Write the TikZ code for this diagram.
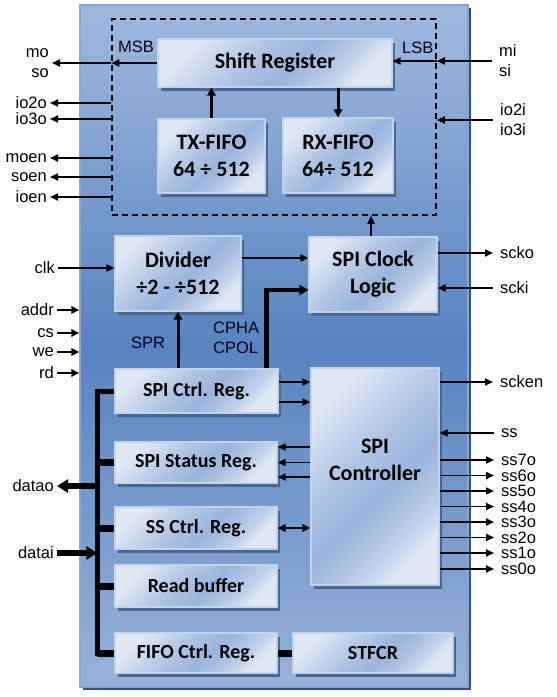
\documentclass[tikz,border=0pt]{standalone}
\usepackage{fontspec}
\setmainfont{Liberation Sans}
\newfontfamily\boxfont{Carlito}
\usetikzlibrary{arrows.meta,shadows}
\definecolor{mtop}{HTML}{A0B9DF}
\definecolor{mmid}{HTML}{5783C0}
\definecolor{mbot}{HTML}{97B2D9}
\definecolor{mborder}{HTML}{86A6D3}
\definecolor{mshadow}{HTML}{34517E}
\definecolor{bla}{HTML}{E0E8F3}
\definecolor{blb}{HTML}{9AB4DC}
\definecolor{bedge}{HTML}{C3D3EA}
\definecolor{bshadow}{HTML}{4B6690}
\pgfdeclarehorizontalshading{boxshade}{100bp}{color(0bp)=(bla); color(25bp)=(bla); color(40bp)=(blb!60!bla); color(55bp)=(blb); color(68bp)=(blb!50!bla); color(75bp)=(bla); color(100bp)=(bla)}
\begin{document}
\begin{tikzpicture}[x=1pt,y=-1pt,
  blk/.style={shading=boxshade, shading angle=-45, draw=bedge, line width=1.2pt,
    inner sep=0pt, align=center, font=\boxfont\bfseries\fontsize{22}{27}\selectfont,
    drop shadow={shadow xshift=3pt,shadow yshift=-3.5pt,fill=bshadow,opacity=1}},
  reg/.style={blk, font=\boxfont\bfseries\fontsize{20}{24}\selectfont},
  lblL/.style={anchor=east, inner xsep=3pt, inner ysep=0pt, align=right, font=\fontsize{16.5}{20}\selectfont},
  lblR/.style={anchor=west, inner xsep=7pt, inner ysep=0pt, align=left, font=\fontsize{16.5}{20}\selectfont},
  lblI/.style={inner sep=0pt, align=left, font=\fontsize{16.5}{20}\selectfont, text=black!92!blue},
  arr/.style={line width=1.8pt, -{Triangle[length=8pt,width=7pt]}},
  tarr/.style={line width=3pt, -{Triangle[length=8pt,width=8.5pt]}},
  inarr/.style={line width=2.4pt, -{Triangle[length=8pt,width=7.5pt]}},
  cp/.style={line width=4.5pt, -{Triangle[length=9pt,width=10pt]}},
  dbl/.style={line width=2.4pt, {Triangle[length=8pt,width=7.5pt]}-{Triangle[length=8pt,width=7.5pt]}},
  bus/.style={line width=5pt},
  stub/.style={line width=7pt},
  fat/.style={line width=6pt, -{Triangle[length=11pt,width=13pt]}}
]
\useasboundingbox (0,0) rectangle (557,697);

% main block
\node[draw=mborder, line width=1.5pt, top color=mtop, bottom color=mbot, middle color=mmid,
  minimum width=388pt, minimum height=682pt, inner sep=0pt,
  drop shadow={shadow xshift=3pt,shadow yshift=-3pt,fill=mshadow,opacity=1}] (top) at (274,346) {};

% dashed core
\node[draw, dashed, dash pattern=on 6pt off 4pt, line width=1.5pt, minimum width=324pt, minimum height=196pt, inner sep=0pt] (core) at (274,117) {};

% blocks
\node[blk, minimum width=234pt, minimum height=48pt] (sr) at (275,63) {Shift Register};
\node[blk, minimum width=107pt, minimum height=74pt] (tx) at (211.5,156) {TX-FIFO\\64 ÷ 512};
\node[blk, minimum width=110pt, minimum height=75pt] (rx) at (338,155.5) {RX-FIFO\\64÷ 512};
\node[blk, minimum width=126pt, minimum height=75pt] (div) at (178,273.5) {Divider\\÷2 - ÷512};
\node[blk, minimum width=128pt, minimum height=75pt] (scl) at (373,274.5) {SPI Clock\\Logic};
\node[reg, minimum width=163pt, minimum height=44pt] (ctrl) at (196.5,391) {SPI Ctrl. Reg.};
\node[reg, minimum width=162pt, minimum height=41pt] (stat) at (196,462.5) {SPI Status Reg.};
\node[reg, minimum width=162pt, minimum height=42pt] (ssc) at (196,528) {SS Ctrl. Reg.};
\node[reg, minimum width=162pt, minimum height=42pt] (rb) at (196,586) {Read buffer};
\node[reg, minimum width=162pt, minimum height=40pt] (fifo) at (196,653) {FIFO Ctrl. Reg.};
\node[reg, minimum width=160pt, minimum height=40pt] (stfcr) at (373,653) {STFCR};
\node[blk, minimum width=128pt, minimum height=217pt] (spic) at (375,476.5) {};
\node[inner sep=0pt, align=center, font=\boxfont\bfseries\fontsize{22}{27}\selectfont] (spict) at (375,460) {SPI\\Controller};

% inner labels
\node[lblI, anchor=west] (msb) at (118,47) {MSB};
\node[lblI, anchor=west] (lsb) at (402,48) {LSB};
\node[lblI] (spr) at (148,343) {SPR};
\node[lblI, anchor=west] (cph) at (213,338) {CPHA\\CPOL};

% outer labels left
\node[lblL] (mo) at (52,63) {mo\\so};
\node[lblL] (io2o) at (50,103) {io2o};
\node[lblL] (io3o) at (50,119) {io3o};
\node[lblL] (moen) at (50,158) {moen};
\node[lblL] (soen) at (50,177) {soen};
\node[lblL] (ioen) at (50,197) {ioen};
\node[lblL] (clk) at (58,268) {clk};
\node[lblL] (addr) at (57,310) {addr};
\node[lblL] (cs) at (57,333) {cs};
\node[lblL] (we) at (57,352) {we};
\node[lblL] (rd) at (57,373) {rd};
\node[lblL] (datao) at (57,486) {datao};
\node[lblL] (datai) at (57,553) {datai};

% outer labels right
\node[lblR] (mi) at (492,61) {mi\\si};
\node[lblR] (io2i) at (493,120) {io2i\\io3i};
\node[lblR] (scko) at (493,253) {scko};
\node[lblR] (scki) at (493,288) {scki};
\node[lblR] (scken) at (493,382) {scken};
\node[lblR] (ss) at (494,433) {ss};
\node[lblR] (ss7o) at (494,460) {ss7o};
\node[lblR] (ss6o) at (494,475.5) {ss6o};
\node[lblR] (ss5o) at (494,491) {ss5o};
\node[lblR] (ss4o) at (494,506.5) {ss4o};
\node[lblR] (ss3o) at (494,522) {ss3o};
\node[lblR] (ss2o) at (494,537.5) {ss2o};
\node[lblR] (ss1o) at (494,553) {ss1o};
\node[lblR] (ss0o) at (494,569) {ss0o};

% core connections
\draw[arr] (mo -| sr.west) -- (mo -| core.west);
\draw[arr] (mo -| core.west) -- (mo.east);
\draw[arr] (mi.west) -- (mi -| core.east);
\draw[arr] (mi -| core.east) -- (mi -| sr.east);
\foreach \n in {io2o,io3o,moen,soen,ioen} \draw[arr] (\n -| core.west) -- (\n.east);
\draw[arr] (io2i.west) -- (io2i -| core.east);
\draw[tarr] (tx.north) -- (tx.north |- sr.south);
\draw[tarr] (rx.north |- sr.south) -- (rx.north);
\draw[arr] ([xshift=-2pt]scl.north) -- ([xshift=-2pt]scl.north |- core.south);

% clock path
\draw[arr] (clk.east) -- (clk -| div.west);
\coordinate (d1) at ([yshift=15.5pt]div.east);
\draw[arr] (d1) -- (d1 -| scl.west);
\draw[tarr] (div.south |- ctrl.north) -- (div.south);
\coordinate (cpb) at ([xshift=-12pt]ctrl.north east);
\coordinate (cpe) at ([yshift=-15.5pt]scl.west);
\draw[cp] (cpb) |- (cpe);
\draw[arr] (scko -| scl.east) -- (scko.west);
\draw[arr] (scki.west) -- (scki -| scl.east);

% bus inputs
\foreach \n in {addr,cs,we,rd} \draw[inarr] (\n.east) -- (\n -| top.west);

% controller
\coordinate (c1) at ([yshift=9pt]ctrl.east);
\coordinate (c2) at ([yshift=-11pt]ctrl.east);
\draw[arr] (c1) -- (c1 -| spic.west);
\draw[arr] (c2) -- (c2 -| spic.west);
\coordinate (s1) at ([yshift=15.5pt]stat.east);
\coordinate (s3) at ([yshift=-14.5pt]stat.east);
\draw[arr] (s1 -| spic.west) -- (s1);
\draw[arr] (stat.east -| spic.west) -- (stat.east);
\draw[arr] (s3 -| spic.west) -- (s3);
\draw[dbl] (ssc.east) -- (ssc -| spic.west);
\draw[arr] (scken -| spic.east) -- (scken.west);
\draw[arr] (ss.west) -- (ss -| spic.east);
\foreach \n in {ss7o,ss6o,ss5o,ss4o,ss3o,ss2o,ss1o,ss0o} \draw[arr] (\n -| spic.east) -- (\n.west);

% data bus
\coordinate (bx) at ([xshift=-17pt]fifo.west);
\draw[bus] (ctrl.west) -| (bx) -- (fifo.west);
\foreach \n in {stat,ssc,rb,fifo} \draw[stub] (\n.west) -- (\n.west -| bx);
\draw[fat] (datao -| bx) -- (datao.east);
\draw[fat] (datai.east) -- (datai -| bx);
\draw[stub] (fifo.east) -- (stfcr.west);
\end{tikzpicture}
\end{document}
